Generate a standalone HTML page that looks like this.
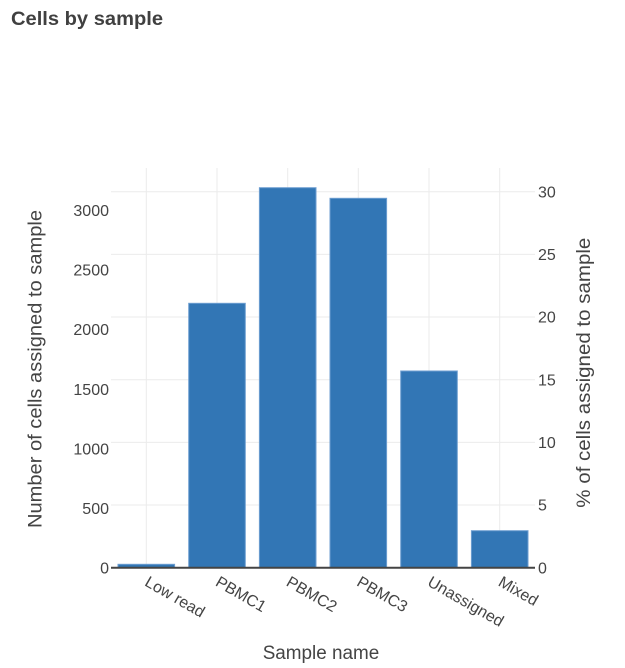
<!DOCTYPE html>
<html>
<head>
<meta charset="utf-8">
<style>
  html, body { margin: 0; padding: 0; background: #fff; }
  svg { display: block; }
  text { font-family: "Liberation Sans", "DejaVu Sans", sans-serif; fill: #444; }
</style>
</head>
<body>
<svg width="625" height="668" viewBox="0 0 625 668" xmlns="http://www.w3.org/2000/svg">
  <rect x="0" y="0" width="625" height="668" fill="#fff"/>

  <!-- Title -->
  <text x="11" y="25" font-size="19" font-weight="bold" textLength="152" lengthAdjust="spacingAndGlyphs" style="fill:#404040">Cells by sample</text>

  <!-- vertical gridlines -->
  <g stroke="#ebebeb" stroke-width="1">
    <line x1="146.3" y1="168" x2="146.3" y2="567" />
    <line x1="217" y1="168" x2="217" y2="567" />
    <line x1="287.7" y1="168" x2="287.7" y2="567" />
    <line x1="358.3" y1="168" x2="358.3" y2="567" />
    <line x1="429" y1="168" x2="429" y2="567" />
    <line x1="499.7" y1="168" x2="499.7" y2="567" />
  </g>
  <!-- horizontal gridlines (right axis) -->
  <g stroke="#ebebeb" stroke-width="1">
    <line x1="111" y1="505" x2="535" y2="505" />
    <line x1="111" y1="442.4" x2="535" y2="442.4" />
    <line x1="111" y1="379.7" x2="535" y2="379.7" />
    <line x1="111" y1="317" x2="535" y2="317" />
    <line x1="111" y1="254.4" x2="535" y2="254.4" />
    <line x1="111" y1="191.7" x2="535" y2="191.7" />
  </g>

  <!-- bars -->
  <g fill="#3276b5" stroke="#6d9ed1" stroke-width="1">
    <rect x="118" y="564.3" width="56.6" height="3.4" />
    <rect x="188.7" y="303.3" width="56.6" height="264.4" />
    <rect x="259.4" y="187.7" width="56.6" height="380" />
    <rect x="330" y="198.3" width="56.6" height="369.4" />
    <rect x="400.7" y="371" width="56.6" height="196.7" />
    <rect x="471.4" y="530.7" width="56.6" height="37" />
  </g>

  <!-- zero line -->
  <line x1="111" y1="567.7" x2="535" y2="567.7" stroke="#444" stroke-width="2" />

  <!-- left tick labels (own scale) -->
  <g font-size="16" text-anchor="end">
    <text x="109" y="573.4">0</text>
    <text x="109" y="513.9">500</text>
    <text x="109" y="454.3">1000</text>
    <text x="109" y="394.8">1500</text>
    <text x="109" y="335.2">2000</text>
    <text x="109" y="275.7">2500</text>
    <text x="109" y="216.2">3000</text>
  </g>

  <!-- right tick labels -->
  <g font-size="16" text-anchor="start">
    <text x="538" y="573.4">0</text>
    <text x="538" y="510.7">5</text>
    <text x="538" y="448.1">10</text>
    <text x="538" y="385.4">15</text>
    <text x="538" y="322.7">20</text>
    <text x="538" y="260.1">25</text>
    <text x="538" y="197.4">30</text>
  </g>

  <!-- x tick labels (rotated 30deg) -->
  <g font-size="16">
    <text transform="translate(143.8,585) rotate(30)">Low read</text>
    <text transform="translate(214.5,585) rotate(30)">PBMC1</text>
    <text transform="translate(285.2,585) rotate(30)">PBMC2</text>
    <text transform="translate(355.8,585) rotate(30)">PBMC3</text>
    <text transform="translate(426.5,585) rotate(30)">Unassigned</text>
    <text transform="translate(497.2,585) rotate(30)">Mixed</text>
  </g>

  <!-- axis titles -->
  <text x="321" y="659" font-size="19" text-anchor="middle" textLength="116.6" lengthAdjust="spacingAndGlyphs">Sample name</text>
  <text transform="translate(41.5,369) rotate(-90)" font-size="19.5" text-anchor="middle" textLength="318" lengthAdjust="spacingAndGlyphs">Number of cells assigned to sample</text>
  <text transform="translate(590,372.7) rotate(-90)" font-size="19.5" text-anchor="middle" textLength="270" lengthAdjust="spacingAndGlyphs">% of cells assigned to sample</text>
</svg>
</body>
</html>
